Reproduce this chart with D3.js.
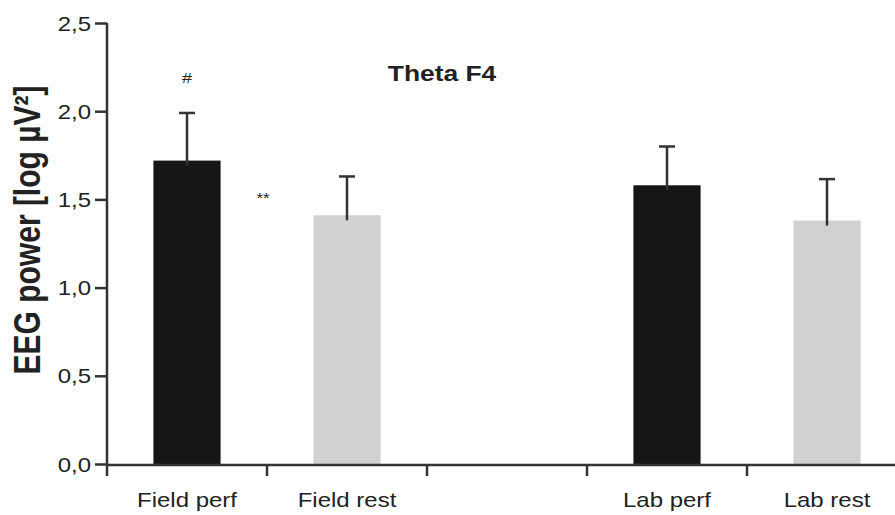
<!DOCTYPE html>
<html>
<head>
<meta charset="utf-8">
<script src="https://cdn.jsdelivr.net/npm/d3@7"></script>
<style>
  body { margin: 0; background: #fff; }
  text { font-family: "Liberation Sans", Arial, sans-serif; fill: #222; }
</style>
</head>
<body>
<div id="chart"></div>
<script>
// Data
const categories = ["Field perf", "Field rest", "", "Lab perf", "Lab rest"];
const barGroups = ["Field perf", "Field rest", "Lab perf", "Lab rest"];
const means = [1.72, 1.41, 1.58, 1.38];
const errTops = [1.99, 1.63, 1.80, 1.615];
const barColors = ["#161616", "#d0d1d0", "#161616", "#d0d1d0"];
const yTicks = [0, 0.5, 1.0, 1.5, 2.0, 2.5];

const width = 895;
const height = 515;
const sx = 1.2; // the figure's lettering is stretched sideways

const svg = d3.select("#chart")
  .append("svg")
  .attr("width", width)
  .attr("height", height);

// Scales
const x = d3.scaleBand()
  .domain(categories)
  .range([107, 907])
  .padding(0);

const y = d3.scaleLinear()
  .domain([0, 2.5])
  .range([464, 23]);

const barW = x.bandwidth() * 0.42;

// Bars
svg.selectAll("rect.bar")
  .data(barGroups)
  .enter()
  .append("rect")
  .attr("class", "bar")
  .attr("x", d => x(d) + x.bandwidth() / 2 - barW / 2)
  .attr("y", (d, i) => y(means[i]))
  .attr("width", barW)
  .attr("height", (d, i) => y(0) - y(means[i]))
  .attr("fill", (d, i) => barColors[i]);

// Error bars (upper only)
const err = svg.selectAll("g.err")
  .data(barGroups)
  .enter()
  .append("g")
  .attr("class", "err")
  .attr("stroke", "#333")
  .attr("stroke-width", 2.5);

err.append("line")
  .attr("x1", d => x(d) + x.bandwidth() / 2)
  .attr("x2", d => x(d) + x.bandwidth() / 2)
  .attr("y1", (d, i) => y(means[i]) + 5)
  .attr("y2", (d, i) => y(errTops[i]));

err.append("line")
  .attr("x1", d => x(d) + x.bandwidth() / 2 - 8)
  .attr("x2", d => x(d) + x.bandwidth() / 2 + 8)
  .attr("y1", (d, i) => y(errTops[i]))
  .attr("y2", (d, i) => y(errTops[i]));

// Y axis
const yAxis = svg.append("g")
  .attr("transform", "translate(107,0)")
  .call(d3.axisLeft(y)
    .tickValues(yTicks)
    .tickSize(12)
    .tickPadding(0)
    .tickFormat(d => d3.format(".1f")(d).replace(".", ",")));

yAxis.select(".domain").remove();
yAxis.selectAll(".tick line").attr("stroke", "#333").attr("stroke-width", 2.5);
yAxis.selectAll(".tick text")
  .attr("x", null)
  .attr("dy", "0.35em")
  .attr("transform", `translate(-16,0) scale(${sx},1)`)
  .style("font-size", "20px")
  .attr("fill", "#222");

svg.append("line")
  .attr("x1", 107).attr("x2", 107)
  .attr("y1", y(2.5)).attr("y2", 476)
  .attr("stroke", "#333").attr("stroke-width", 2.5);

// X axis
const xAxis = svg.append("g")
  .attr("transform", "translate(0,465)");

xAxis.append("line")
  .attr("x1", 107).attr("x2", width)
  .attr("stroke", "#333").attr("stroke-width", 2.5);

xAxis.selectAll("line.xtick")
  .data(categories)
  .enter()
  .append("line")
  .attr("class", "xtick")
  .attr("x1", d => x(d) + x.bandwidth())
  .attr("x2", d => x(d) + x.bandwidth())
  .attr("y1", 0)
  .attr("y2", 11)
  .attr("stroke", "#333").attr("stroke-width", 2.5);

xAxis.selectAll("text.xlab")
  .data(barGroups)
  .enter()
  .append("text")
  .attr("class", "xlab")
  .attr("transform", d => `translate(${x(d) + x.bandwidth() / 2},42) scale(${sx},1)`)
  .attr("text-anchor", "middle")
  .style("font-size", "20px")
  .text(d => d);

// Axis title
svg.append("text")
  .attr("transform", `translate(40,230) scale(${sx},1) rotate(-90)`)
  .attr("text-anchor", "middle")
  .style("font-size", "30px")
  .style("font-weight", "bold")
  .text("EEG power [log µV²]");

// Chart title
svg.append("text")
  .attr("transform", `translate(442,81) scale(${sx},1)`)
  .attr("text-anchor", "middle")
  .style("font-size", "22px")
  .style("font-weight", "bold")
  .text("Theta F4");

// Significance marks
svg.append("text")
  .attr("transform", `translate(${x("Field perf") + x.bandwidth() / 2},83) scale(${sx},1)`)
  .attr("text-anchor", "middle")
  .style("font-size", "15px")
  .attr("fill", "#444")
  .text("#");

svg.append("text")
  .attr("transform", `translate(263,203) scale(${sx},1)`)
  .attr("text-anchor", "middle")
  .style("font-size", "14px")
  .attr("fill", "#444")
  .text("**");
</script>
</body>
</html>
